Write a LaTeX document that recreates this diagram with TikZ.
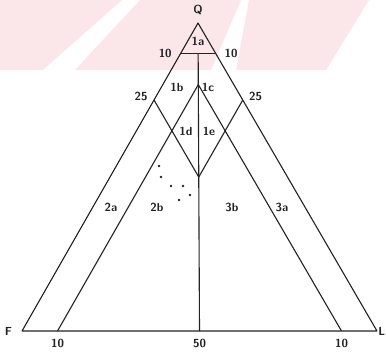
\documentclass[tikz,border=0pt]{standalone}
\usepackage{xcolor}
\usepackage{tikz}
\usetikzlibrary{positioning, calc}
\definecolor{stripepink}{RGB}{251, 231, 234}
\definecolor{inkgrey}{RGB}{35, 35, 35}

\begin{document}
\begin{tikzpicture}[
    x=0.3mm, y=-0.3mm,
    edge/.style={line width=0.95pt, inkgrey, line join=round},
    lbl/.style={font=\sffamily\bfseries, inner sep=1pt, text=inkgrey},
    field/.style={font=\sffamily\bfseries, inner sep=1pt, text=inkgrey},
    sample/.style={circle, fill=inkgrey, inner sep=0pt, minimum size=2.2pt}
]
    \useasboundingbox (0,0) rectangle (386,352);
    % watermark stripes of the scan
    \fill[stripepink] (0,0) -- (122,0) -- (43,70) -- (0,70) -- cycle;
    \fill[stripepink] (140,0) -- (241,0) -- (211,70) -- (75,70) -- cycle;
    \fill[stripepink] (249,0) -- (369,0) -- (326,70) -- (236,70) -- cycle;

    % corners
    \coordinate (Q) at (198,23);
    \coordinate (F) at (22,331);
    \coordinate (L) at (377,331);
    \coordinate (M) at ($(F)!0.5!(L)$);

    % points on the sides and the median
    \coordinate (q10l) at ($(Q)!0.1!(F)$);
    \coordinate (q10r) at ($(Q)!0.1!(L)$);
    \coordinate (q25l) at ($(Q)!0.25!(F)$);
    \coordinate (q25r) at ($(Q)!0.25!(L)$);
    \coordinate (b10l) at ($(F)!0.1!(L)$);
    \coordinate (b10r) at ($(L)!0.1!(F)$);
    \coordinate (c90) at ($(Q)!0.1!(M)$);
    \coordinate (c80) at ($(Q)!0.2!(M)$);
    \coordinate (c50) at ($(Q)!0.5!(M)$);

    \draw[edge] (Q) -- (F) -- (L) -- cycle;
    \draw[edge] (q10l) -- (q10r);
    \draw[edge] (c90) -- (M);
    \draw[edge] (b10l) -- (c80) -- (b10r);
    \draw[edge] (q25l) -- (c50) -- (q25r);

    % corner and scale labels
    \node[lbl, above=2mm of Q] (qlab) {Q};
    \node[lbl, left=2.6mm of F] (flab) {F};
    \node[lbl, right=0.2mm of L, inner sep=0.5pt] (llab) {L};
    \node[lbl, left=2.2mm of q10l] (s10l) {10};
    \node[lbl, right=2.2mm of q10r] (s10r) {10};
    \node[lbl, left=1.5mm of q25l, yshift=1mm] (s25l) {25};
    \node[lbl, right=1.5mm of q25r, yshift=1mm] (s25r) {25};
    \node[lbl, below=2mm of b10l] (t10l) {10};
    \node[lbl, below=2mm of M] (t50) {50};
    \node[lbl, below=2mm of b10r] (t10r) {10};

    % fields
    \node[field] (f1a) at (198,41) {1a};
    \node[field] (f1b) at (177,87) {1b};
    \node[field] (f1c) at (208,87) {1c};
    \node[field] (f1d) at (186,131) {1d};
    \node[field] (f1e) at (209,131) {1e};
    \node[field] (f2a) at (111,207) {2a};
    \node[field] (f2b) at (157,207) {2b};
    \node[field] (f3b) at (232,207) {3b};
    \node[field] (f3a) at (282,207) {3a};

    % samples
    \foreach \px/\py in {159/166, 161/177, 171/186, 183/186, 179/200, 190/195}
        \node[sample] at (\px,\py) {};
\end{tikzpicture}
\end{document}
